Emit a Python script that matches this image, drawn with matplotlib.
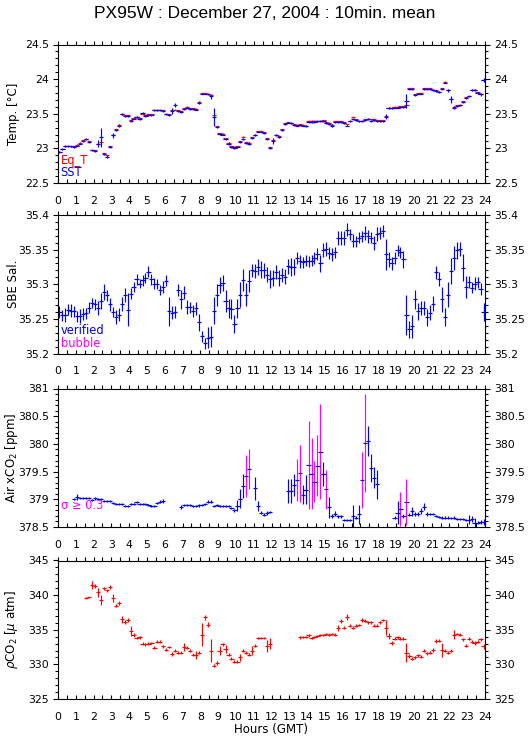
import numpy as np
import matplotlib
matplotlib.use("Agg")
import matplotlib.pyplot as plt
import matplotlib.lines as mlines
from matplotlib.ticker import MultipleLocator, FuncFormatter

nan = np.nan

# ---------------- data (10-minute means, 144 per day) ----------------
title = "PX95W : December 27, 2004 : 10min. mean"
hour_ticks = list(range(0, 25))

sst = [22.95, 22.99, 23.03, 23.03, 23.03, 23.02,
       23.04, 23.07, 23.11, 23.13, 23.09, 22.97,
       22.96, 23.07, 23.16, 22.92, 22.88, 23.02,
       23.19, 23.27, 23.33, 23.49, 23.47, 23.47,
       23.40, 23.43, 23.45, 23.43, 23.51, 23.47,
       23.48, 23.48, 23.55, 23.55, 23.55, 23.54,
       23.49, 23.48, 23.54, 23.63, 23.54, 23.53,
       23.57, 23.59, 23.57, 23.57, 23.56, 23.66,
       23.79, 23.79, 23.78, 23.75, 23.46, 23.31,
       23.21, 23.20, 23.14, 23.07, 23.02, 23.01,
       23.02, 23.09, 23.14, 23.08, 23.07, 23.15,
       23.19, 23.24, 23.24, 23.22, 23.14, 23.01,
       23.11, 23.19, 23.17, 23.27, 23.35, 23.37,
       23.36, 23.34, 23.33, 23.34, 23.33, 23.32,
       23.38, 23.38, 23.38, 23.39, 23.39, 23.39,
       23.36, 23.35, 23.33, 23.38, 23.38, 23.38,
       23.37, 23.33, 23.39, 23.43, 23.41, 23.39,
       23.39, 23.41, 23.42, 23.40, 23.41, 23.39,
       23.39, 23.39, 23.46, 23.58, 23.58, 23.59,
       23.59, 23.60, 23.60, 23.69, 23.86, 23.86,
       23.77, 23.79, 23.79, 23.86, 23.86, 23.86,
       23.84, 23.83, 23.81, 23.86, 23.95, 23.84,
       23.71, 23.59, 23.61, 23.62, 23.67, 23.73,
       23.75, 23.84, 23.84, 23.80, 23.78, 23.99]

sst_sd = [0.012, 0.012, 0.010, 0.010, 0.010, 0.010,
          0.012, 0.012, 0.012, 0.012, 0.015, 0.012,
          0.012, 0.050, 0.140, 0.012, 0.025, 0.020,
          0.035, 0.015, 0.015, 0.015, 0.012, 0.012,
          0.012, 0.012, 0.015, 0.015, 0.012, 0.012,
          0.012, 0.010, 0.010, 0.010, 0.010, 0.012,
          0.012, 0.012, 0.040, 0.030, 0.012, 0.015,
          0.012, 0.010, 0.010, 0.010, 0.012, 0.025,
          0.012, 0.012, 0.012, 0.030, 0.130, 0.015,
          0.012, 0.012, 0.015, 0.015, 0.012, 0.012,
          0.012, 0.015, 0.012, 0.015, 0.015, 0.012,
          0.012, 0.010, 0.010, 0.012, 0.015, 0.012,
          0.040, 0.012, 0.015, 0.015, 0.012, 0.010,
          0.010, 0.012, 0.012, 0.012, 0.012, 0.015,
          0.010, 0.010, 0.010, 0.012, 0.012, 0.012,
          0.015, 0.015, 0.025, 0.012, 0.012, 0.012,
          0.012, 0.012, 0.012, 0.015, 0.012, 0.012,
          0.012, 0.012, 0.012, 0.012, 0.012, 0.012,
          0.010, 0.010, 0.040, 0.015, 0.010, 0.010,
          0.010, 0.010, 0.012, 0.100, 0.015, 0.015,
          0.012, 0.012, 0.012, 0.010, 0.010, 0.012,
          0.012, 0.012, 0.012, 0.012, 0.012, 0.020,
          0.050, 0.015, 0.012, 0.012, 0.015, 0.012,
          0.012, 0.015, 0.012, 0.015, 0.020, 0.025]

eq_t = [22.95, 22.99, 23.04, 23.04, 23.03, 23.03,
        23.05, 23.08, 23.12, 23.14, 23.10, 22.98,
        22.97, 23.06, 23.09, 22.93, 22.90, 23.03,
        23.20, 23.28, 23.34, 23.49, 23.48, 23.48,
        23.41, 23.44, 23.46, 23.44, 23.50, 23.48,
        23.49, 23.49, 23.56, 23.56, 23.56, 23.55,
        23.50, 23.49, 23.55, 23.56, 23.55, 23.54,
        23.58, 23.60, 23.58, 23.58, 23.57, 23.67,
        23.80, 23.80, 23.79, 23.77, 23.48, 23.32,
        23.22, 23.21, 23.15, 23.08, 23.03, 23.02,
        23.03, 23.10, 23.17, 23.09, 23.08, 23.16,
        23.20, 23.25, 23.25, 23.23, 23.15, 23.02,
        23.12, 23.20, 23.18, 23.28, 23.36, 23.38,
        23.37, 23.35, 23.34, 23.35, 23.34, 23.33,
        23.40, 23.40, 23.40, 23.40, 23.40, 23.41,
        23.38, 23.37, 23.34, 23.39, 23.39, 23.39,
        23.38, 23.35, 23.40, 23.45, 23.42, 23.40,
        23.40, 23.42, 23.43, 23.42, 23.42, 23.41,
        23.41, 23.41, 23.47, 23.59, 23.59, 23.60,
        23.60, 23.61, 23.61, 23.62, 23.87, 23.87,
        23.78, 23.80, 23.80, 23.87, 23.87, 23.87,
        23.85, 23.84, 23.82, 23.87, 23.96, 23.85,
        23.72, 23.60, 23.62, 23.63, 23.68, 23.74,
        23.76, 23.85, 23.85, 23.81, 23.79, 23.99]

sal = [35.260, 35.255, 35.256, 35.263, 35.262, 35.261,
       35.254, 35.254, 35.257, 35.258, 35.266, 35.273,
       35.271, 35.266, 35.276, 35.289, 35.284, 35.271,
       35.260, 35.253, 35.256, 35.272, 35.285, 35.263,
       35.286, 35.296, 35.307, 35.301, 35.306, 35.309,
       35.318, 35.307, 35.301, 35.300, 35.292, 35.296,
       35.305, 35.261, 35.259, 35.260, 35.292, 35.278,
       35.288, 35.267, 35.267, 35.261, 35.265, 35.245,
       35.225, 35.215, 35.223, 35.224, 35.262, 35.284,
       35.299, 35.302, 35.276, 35.265, 35.264, 35.243,
       35.265, 35.285, 35.306, 35.285, 35.305, 35.320,
       35.319, 35.325, 35.321, 35.320, 35.314, 35.308,
       35.309, 35.318, 35.309, 35.313, 35.311, 35.326,
       35.325, 35.325, 35.338, 35.333, 35.332, 35.334,
       35.333, 35.334, 35.338, 35.344, 35.330, 35.350,
       35.351, 35.345, 35.343, 35.346, 35.367, 35.367,
       35.367, 35.379, 35.372, 35.363, 35.362, 35.367,
       35.369, 35.374, 35.369, 35.367, 35.360, 35.373,
       35.374, 35.377, 35.343, 35.336, 35.330, 35.338,
       35.349, 35.346, 35.336, 35.256, 35.235, 35.239,
       35.278, 35.261, 35.266, 35.266, 35.252, 35.259,
       35.272, 35.317, 35.307, 35.278, 35.252, 35.285,
       35.319, 35.338, 35.349, 35.351, 35.324, 35.296,
       35.303, 35.295, 35.301, 35.303, 35.293, 35.260]

sal_sd = [0.009, 0.008, 0.010, 0.008, 0.009, 0.008,
          0.008, 0.010, 0.009, 0.008, 0.008, 0.007,
          0.008, 0.010, 0.012, 0.012, 0.008, 0.009,
          0.007, 0.010, 0.009, 0.010, 0.010, 0.024,
          0.008, 0.007, 0.008, 0.007, 0.008, 0.007,
          0.008, 0.008, 0.008, 0.007, 0.007, 0.008,
          0.008, 0.021, 0.009, 0.009, 0.009, 0.014,
          0.009, 0.010, 0.008, 0.009, 0.010, 0.012,
          0.008, 0.008, 0.015, 0.015, 0.020, 0.016,
          0.012, 0.012, 0.016, 0.014, 0.014, 0.013,
          0.014, 0.018, 0.016, 0.017, 0.016, 0.009,
          0.010, 0.011, 0.012, 0.011, 0.011, 0.013,
          0.012, 0.010, 0.011, 0.010, 0.011, 0.011,
          0.013, 0.012, 0.009, 0.009, 0.008, 0.008,
          0.008, 0.008, 0.009, 0.009, 0.012, 0.010,
          0.010, 0.009, 0.010, 0.008, 0.010, 0.010,
          0.010, 0.009, 0.008, 0.009, 0.008, 0.008,
          0.008, 0.010, 0.009, 0.008, 0.010, 0.010,
          0.009, 0.009, 0.022, 0.011, 0.009, 0.009,
          0.008, 0.008, 0.012, 0.029, 0.012, 0.017,
          0.014, 0.012, 0.010, 0.010, 0.012, 0.011,
          0.011, 0.010, 0.010, 0.018, 0.013, 0.018,
          0.019, 0.017, 0.012, 0.010, 0.019, 0.016,
          0.009, 0.008, 0.009, 0.008, 0.009, 0.013]

air_xco2 = [nan, nan, nan, nan, nan, 379.00,
            379.04, 379.03, 379.03, 379.03, 379.03, 378.99,
            379.02, 379.00, 379.00, 378.97, 378.97, 378.97,
            378.94, 378.92, 378.91, 378.91, 378.88, 378.88,
            378.92, 378.92, 378.95, 378.91, 378.91, 378.91,
            378.90, 378.88, 378.88, 378.94, 378.96, 378.97,
            nan, nan, nan, nan, nan, 378.86,
            378.90, 378.90, 378.90, 378.88, 378.88, 378.89,
            378.90, 378.91, 378.96, 378.96, 378.88, 378.90,
            378.88, 378.88, 378.88, 378.88, 378.85, 378.80,
            378.88, 379.01, 379.24, 379.42, 379.55, nan,
            379.20, 378.88, 378.76, 378.72, 378.75, 378.77,
            nan, nan, nan, nan, nan, 379.15,
            379.15, 379.26, 379.35, 379.47, 379.08, 379.17,
            379.62, 379.46, 379.32, 379.61, 379.86, 379.46,
            379.18, 378.86, 378.70, 378.74, 378.69, 378.69,
            378.63, 378.63, 378.63, 378.70, 378.67, 378.73,
            379.35, 380.02, 380.06, 379.56, 379.39, 379.27,
            nan, nan, nan, nan, nan, 378.67,
            378.76, 378.82, 378.70, 378.95, 378.72, 378.78,
            378.73, 378.73, 378.79, 378.87, 378.73, 378.73,
            378.73, 378.70, 378.68, 378.67, 378.67, 378.67,
            378.66, 378.67, 378.64, 378.64, 378.64, 378.63,
            378.63, 378.64, 378.58, 378.58, 378.59, 378.59]

air_sd = [0.0, 0.0, 0.0, 0.0, 0.0, 0.02,
          0.05, 0.02, 0.02, 0.02, 0.02, 0.02,
          0.03, 0.02, 0.02, 0.02, 0.02, 0.02,
          0.02, 0.02, 0.02, 0.02, 0.02, 0.02,
          0.02, 0.02, 0.02, 0.02, 0.02, 0.02,
          0.02, 0.02, 0.02, 0.02, 0.02, 0.03,
          0.0, 0.0, 0.0, 0.0, 0.0, 0.03,
          0.02, 0.02, 0.02, 0.02, 0.02, 0.02,
          0.02, 0.02, 0.02, 0.02, 0.02, 0.02,
          0.02, 0.02, 0.02, 0.02, 0.02, 0.03,
          0.10, 0.17, 0.21, 0.38, 0.36, 0.0,
          0.21, 0.09, 0.03, 0.03, 0.03, 0.02,
          0.0, 0.0, 0.0, 0.0, 0.0, 0.22,
          0.22, 0.20, 0.38, 0.51, 0.17, 0.26,
          0.80, 0.64, 0.37, 0.55, 0.86, 0.22,
          0.35, 0.19, 0.04, 0.04, 0.02, 0.02,
          0.02, 0.02, 0.02, 0.20, 0.03, 0.17,
          0.51, 0.88, 0.27, 0.25, 0.19, 0.26,
          0.0, 0.0, 0.0, 0.0, 0.0, 0.03,
          0.21, 0.31, 0.03, 0.42, 0.03, 0.08,
          0.04, 0.04, 0.06, 0.06, 0.04, 0.02,
          0.02, 0.02, 0.02, 0.02, 0.02, 0.02,
          0.02, 0.02, 0.02, 0.02, 0.02, 0.02,
          0.08, 0.05, 0.09, 0.03, 0.03, 0.05]

pco2 = [nan, nan, nan, nan, nan, nan,
        nan, nan, nan, 339.6, 339.7, 341.5,
        341.3, 340.4, 339.3, 341.0, 340.7, 341.2,
        339.6, 338.5, 338.9, 336.5, 336.1, 336.4,
        334.8, 334.3, 333.8, 333.9, 333.0, 332.9,
        333.0, 333.1, 332.4, 333.3, 333.3, 332.6,
        332.1, 332.5, 331.5, 332.0, 331.7, 331.7,
        332.5, 332.4, 332.0, 331.4, 331.4, 331.7,
        334.3, 336.8, 335.7, 332.0, 329.8, 330.2,
        332.0, 332.9, 332.2, 331.4, 330.8, 330.4,
        330.4, 331.0, 332.0, 331.7, 331.4, 332.0,
        332.7, 333.8, 333.8, 333.8, 332.7, 333.0,
        nan, nan, nan, nan, nan, nan,
        nan, nan, nan, 333.9, 333.9, 334.0,
        334.2, 333.8, 333.9, 334.1, 334.2, 334.2,
        334.4, 334.3, 334.4, 334.3, 335.3, 336.3,
        335.3, 336.8, 335.6, 335.3, 335.6, 335.7,
        336.4, 336.3, 336.1, 336.1, 335.6, 335.6,
        336.1, 336.4, 335.3, 334.1, 333.1, 333.7,
        333.9, 333.7, 333.7, 331.7, 331.2, 330.8,
        331.0, 331.3, 331.1, 332.0, 331.6, 331.7,
        332.1, 333.4, 333.4, 332.1, 332.0, 331.7,
        332.0, 334.3, 334.4, 334.3, 333.6, 332.7,
        333.7, 333.3, 333.1, 333.3, 333.6, 332.6]

pco2_sd = [0.0, 0.0, 0.0, 0.0, 0.0, 0.0,
           0.0, 0.0, 0.0, 0.10, 0.10, 0.60,
           0.25, 0.70, 0.70, 0.20, 0.20, 0.25,
           0.60, 0.25, 0.30, 0.50, 0.25, 0.30,
           0.70, 0.30, 0.20, 0.20, 0.20, 0.20,
           0.20, 0.20, 0.20, 0.20, 0.20, 0.20,
           0.20, 0.20, 0.30, 0.20, 0.20, 0.20,
           0.55, 0.20, 0.20, 0.25, 0.60, 0.25,
           1.70, 0.40, 0.35, 1.70, 0.25, 0.25,
           0.65, 0.20, 0.60, 0.25, 0.20, 0.20,
           0.20, 0.55, 0.20, 0.25, 0.20, 0.60,
           0.25, 0.20, 0.20, 0.20, 0.85, 0.85,
           0.0, 0.0, 0.0, 0.0, 0.0, 0.0,
           0.0, 0.0, 0.0, 0.20, 0.15, 0.15,
           0.20, 0.20, 0.15, 0.20, 0.15, 0.15,
           0.20, 0.20, 0.20, 0.20, 0.45, 0.30,
           0.25, 0.45, 0.25, 0.25, 0.20, 0.20,
           0.25, 0.20, 0.20, 0.20, 0.25, 0.20,
           0.20, 0.20, 1.10, 0.50, 0.25, 0.20,
           0.20, 0.20, 0.20, 1.35, 0.25, 0.20,
           0.20, 0.20, 0.20, 0.25, 0.20, 0.20,
           0.25, 0.25, 0.20, 1.00, 0.25, 0.20,
           0.25, 0.70, 0.20, 0.20, 0.25, 0.20,
           0.20, 0.20, 0.25, 0.20, 0.20, 0.40]

sigma_limit = 0.3

# ---------------- plotting ----------------
hours = np.arange(144) / 6.0 + 1.0 / 12.0
half_w = 0.12

BLUE = (0, 0, 1)
RED = (1, 0, 0)
MAG = (1, 0, 1)

plt.rcParams['font.family'] = ['DejaVu Sans']
plt.rcParams['axes.linewidth'] = 0.8

W, H = 529, 739
fig = plt.figure(figsize=(W / 100, H / 100), dpi=100)

left_px, right_px = 58, 485
panel_tops = [44.5, 215.0, 388.5, 560.5]
panel_h = 138.5

TICK_FS = 7.8
LBL_FS = 8.5
EW = 0.85


def gfmt(v, pos=None):
    return ('%.3f' % v).rstrip('0').rstrip('.')


def make_axes(top_px):
    rect = [left_px / W, 1 - (top_px + panel_h) / H,
            (right_px - left_px) / W, panel_h / H]
    return fig.add_axes(rect)


def style(ax, ylim, ymaj, ymin, ylabel):
    ax.set_xlim(0, 24)
    ax.set_ylim(*ylim)
    ax.set_xticks(hour_ticks)
    ax.set_xticklabels([str(h) for h in hour_ticks])
    ax.xaxis.set_minor_locator(MultipleLocator(0.5))
    ax.tick_params(axis='x', which='both', direction='in', length=2.6,
                   width=0.8, bottom=True, top=True, labelsize=TICK_FS, pad=9.2)
    ax.yaxis.set_major_locator(MultipleLocator(ymaj))
    ax.yaxis.set_minor_locator(MultipleLocator(ymin))
    ax.yaxis.set_major_formatter(FuncFormatter(gfmt))
    ax.tick_params(axis='y', which='major', direction='out', length=3.6,
                   width=0.8, labelsize=TICK_FS, pad=3.0,
                   left=True, right=True, labelleft=True, labelright=True)
    ax.tick_params(axis='y', which='minor', direction='out', length=2.2,
                   width=0.8, left=True, right=True)
    # top ticks point outward (upwards), bottom ticks point inward (upwards)
    for tk in ax.xaxis.get_major_ticks() + ax.xaxis.get_minor_ticks():
        tk.tick2line.set_marker(mlines.TICKUP)
    ax.set_ylabel(ylabel, fontsize=LBL_FS)
    ax.yaxis.set_label_coords(-0.088, 0.5)


t_arr = np.array(hours)

# Panel 1: temperatures
ax1 = make_axes(panel_tops[0])
ax1.errorbar(t_arr, eq_t, xerr=half_w, yerr=0.006, fmt='none', ecolor=RED,
             elinewidth=EW, capsize=0)
ax1.errorbar(t_arr, sst, xerr=half_w, yerr=sst_sd, fmt='none', ecolor=BLUE,
             elinewidth=EW, capsize=0)
style(ax1, (22.5, 24.5), 0.5, 0.1, 'Temp. [°C]')
ax1.text(0.006, 0.165, 'Eq_T', color=RED, transform=ax1.transAxes,
         fontsize=8.3, va='center', ha='left')
ax1.text(0.006, 0.075, 'SST', color=BLUE, transform=ax1.transAxes,
         fontsize=8.3, va='center', ha='left')

# Panel 2: salinity
ax2 = make_axes(panel_tops[1])
ax2.errorbar(t_arr, sal, xerr=half_w, yerr=sal_sd, fmt='none', ecolor=BLUE,
             elinewidth=EW, capsize=0)
style(ax2, (35.2, 35.4), 0.05, 0.01, 'SBE Sal.')
ax2.text(0.006, 0.165, 'verified', color=BLUE, transform=ax2.transAxes,
         fontsize=8.3, va='center', ha='left')
ax2.text(0.006, 0.072, 'bubble', color=MAG, transform=ax2.transAxes,
         fontsize=8.3, va='center', ha='left')

# Panel 3: air xCO2
ax3 = make_axes(panel_tops[2])
a = np.array(air_xco2, dtype=float)
s = np.array(air_sd, dtype=float)
ok = ~np.isnan(a)
big = ok & (s >= sigma_limit)
small = ok & (s < sigma_limit)
ax3.errorbar(t_arr[small], a[small], yerr=s[small], fmt='none', ecolor=BLUE,
             elinewidth=EW, capsize=0)
ax3.errorbar(t_arr[big], a[big], yerr=s[big], fmt='none', ecolor=MAG,
             elinewidth=EW, capsize=0)
ax3.errorbar(t_arr[ok], a[ok], xerr=half_w, fmt='none', ecolor=BLUE,
             elinewidth=EW, capsize=0)
style(ax3, (378.5, 381), 0.5, 0.1, r'Air xCO$_2$ [ppm]')
ax3.text(0.006, 0.155, '\u03c3 \u2265 0.3', color=MAG, transform=ax3.transAxes,
         fontsize=8.3, va='center', ha='left')

# Panel 4: pCO2
ax4 = make_axes(panel_tops[3])
p = np.array(pco2, dtype=float)
ps = np.array(pco2_sd, dtype=float)
okp = ~np.isnan(p)
ax4.errorbar(t_arr[okp], p[okp], xerr=half_w, yerr=ps[okp], fmt='none',
             ecolor=RED, elinewidth=EW, capsize=0)
style(ax4, (325, 345), 5, 1, r'$\rho$CO$_2$ [$\mu$ atm]')
ax4.set_xlabel('Hours (GMT)', fontsize=LBL_FS, labelpad=1)

fig.text(0.5, 1 - 14 / H, title, ha='center', va='center', fontsize=12.5,
         family=['Liberation Sans', 'DejaVu Sans'])

fig.savefig('out.png', dpi=100)
